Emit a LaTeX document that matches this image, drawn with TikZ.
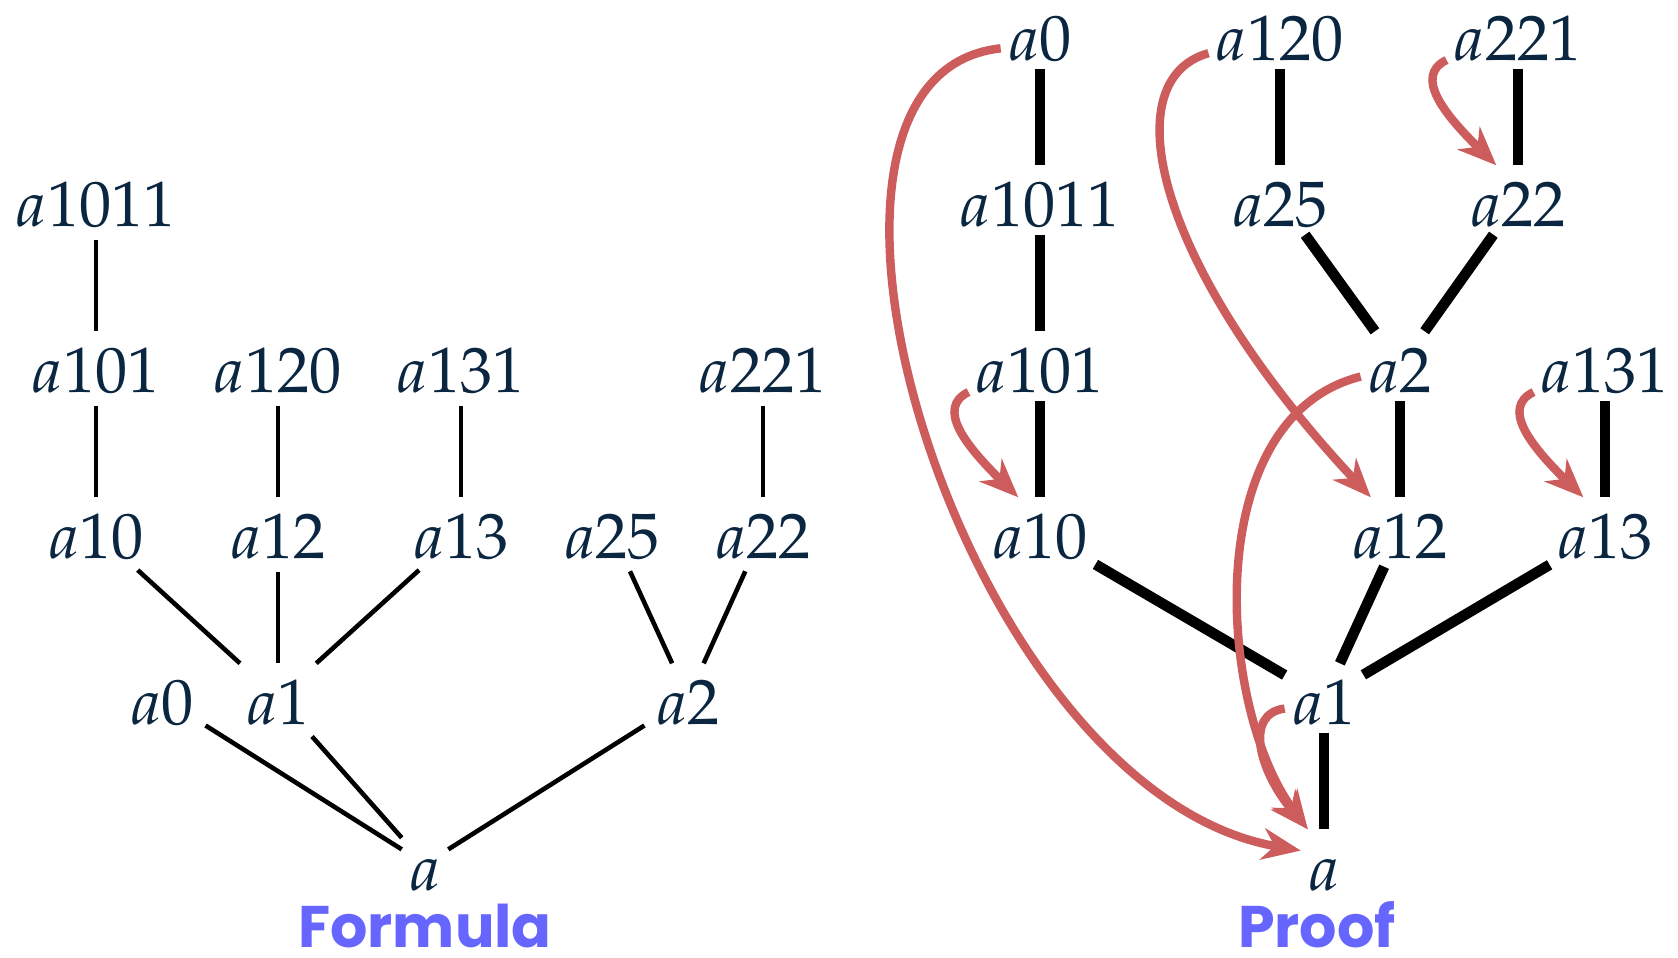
\documentclass[tikz,border=0pt]{standalone}
\usepackage[no-math]{fontspec}
\usepackage{mathpazo}
\usepackage{xcolor}
\usepackage{tikz}
\usetikzlibrary{arrows.meta,positioning}

\newfontfamily\capfont{Poppins}
\definecolor{ink}{RGB}{10,38,64}
\definecolor{rust}{RGB}{205,93,93}
\definecolor{periwinkle}{RGB}{102,102,255}

\begin{document}
\begin{tikzpicture}[
    node distance=1.66cm,
    term/.style={text=ink, font=\fontsize{18.3}{21}\selectfont, text height=0.52cm, text depth=0pt, inner xsep=0.07cm, inner ysep=0.08cm},
    caption/.style={text=periwinkle, font=\capfont\bfseries\fontsize{16.7}{20}\selectfont, inner sep=0pt},
    branch/.style={draw=black, line width=1.3pt, shorten <=0.05cm},
    bold branch/.style={draw=black, line width=3pt},
    jump/.style={-{Stealth[length=11pt,width=9pt,inset=3.5pt]}, draw=rust, line width=2.4pt}
]
\useasboundingbox (0,0) rectangle (16.78,-9.57);

% Formula tree
\node [term] (aL) at (4.25,-8.64) {$a$};
\node [term, above of=aL, xshift=-2.63cm] (a0L) {$a0$};
\node [term, above of=aL, xshift=-1.47cm] (a1L) {$a1$};
\node [term, above of=aL, xshift=2.63cm] (a2L) {$a2$};
\node [term, above of=a1L, xshift=-1.82cm] (a10L) {$a10$};
\node [term, above of=a1L] (a12L) {$a12$};
\node [term, above of=a1L, xshift=1.83cm] (a13L) {$a13$};
\node [term, above of=a2L, xshift=-0.76cm] (a25L) {$a25$};
\node [term, above of=a2L, xshift=0.75cm] (a22L) {$a22$};
\node [term, above of=a10L] (a101L) {$a101$};
\node [term, above of=a12L] (a120L) {$a120$};
\node [term, above of=a13L] (a131L) {$a131$};
\node [term, above of=a22L] (a221L) {$a221$};
\node [term, above of=a101L] (a1011L) {$a1011$};

% Proof tree
\node [term] (aR) at (13.24,-8.64) {$a$};
\node [term, above of=aR] (a1R) {$a1$};
\node [term, above of=a1R, xshift=-2.84cm] (a10R) {$a10$};
\node [term, above of=a1R, xshift=0.76cm] (a12R) {$a12$};
\node [term, above of=a1R, xshift=2.81cm] (a13R) {$a13$};
\node [term, above of=a10R] (a101R) {$a101$};
\node [term, above of=a12R] (a2R) {$a2$};
\node [term, above of=a13R] (a131R) {$a131$};
\node [term, above of=a101R] (a1011R) {$a1011$};
\node [term, above of=a2R, xshift=-1.20cm] (a25R) {$a25$};
\node [term, above of=a2R, xshift=1.18cm] (a22R) {$a22$};
\node [term, above of=a1011R] (a0R) {$a0$};
\node [term, above of=a25R] (a120R) {$a120$};
\node [term, above of=a22R] (a221R) {$a221$};

% Captions
\node [caption, below=0.49cm of aL, anchor=base] (formula) {Formula};
\node [caption, below=0.49cm of aR, anchor=base, xshift=-0.07cm] (proof) {Proof};

% Formula tree branches
\draw [branch] (a1011L) -- (a101L);
\draw [branch] (a101L) -- (a10L);
\draw [branch] (a120L) -- (a12L);
\draw [branch] (a131L) -- (a13L);
\draw [branch] (a221L) -- (a22L);
\draw [branch] (a10L) -- (a1L);
\draw [branch] (a12L) -- (a1L);
\draw [branch] (a13L) -- (a1L);
\draw [branch] (a25L) -- (a2L);
\draw [branch] (a22L) -- (a2L);
\draw [branch] (a0L) -- (aL);
\draw [branch] (a1L) -- (aL);
\draw [branch] (a2L) -- (aL);

% Proof tree branches
\draw [bold branch] (a0R) -- (a1011R);
\draw [bold branch] (a1011R) -- (a101R);
\draw [bold branch] (a101R) -- (a10R);
\draw [bold branch] (a120R) -- (a25R);
\draw [bold branch] (a221R) -- (a22R);
\draw [bold branch] (a25R) -- (a2R);
\draw [bold branch] (a22R) -- (a2R);
\draw [bold branch] (a2R) -- (a12R);
\draw [bold branch] (a131R) -- (a13R);
\draw [bold branch] (a10R) -- (a1R);
\draw [bold branch] (a12R) -- (a1R);
\draw [bold branch] (a13R) -- (a1R);
\draw [bold branch] (a1R) -- (aR);

% Jumps
\draw [jump] (a0R.200) .. controls +(-2.52,-0.27) and +(-3.40,0.59) .. (aR.150);
\draw [jump] (a120R.195) .. controls +(-0.96,-0.27) and +(-2.15,2.30) .. (a12R.130);
\draw [jump] (a221R.200) .. controls +(-0.33,-0.16) and +(-0.52,0.51) .. (a22R.122);
\draw [jump] (a101R.200) .. controls +(-0.33,-0.16) and +(-0.52,0.51) .. (a10R.122);
\draw [jump] (a131R.200) .. controls +(-0.33,-0.16) and +(-0.52,0.51) .. (a13R.122);
\draw [jump] (a2R.195) .. controls +(-1.63,-0.41) and +(-0.9,1.2) .. (aR.115);
\draw [jump] (a1R.195) .. controls +(-0.40,-0.05) and +(-0.50,0.60) .. (aR.115);

\end{tikzpicture}
\end{document}
